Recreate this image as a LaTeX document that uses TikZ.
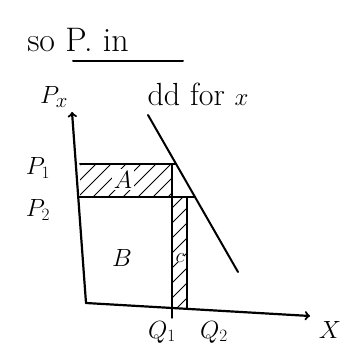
\documentclass[tikz,border=0pt]{standalone}
\usepackage{fontspec}

\begin{document}
\begin{tikzpicture}[
  x=1pt, y=-1pt,
  every node/.style={inner sep=1pt, font=\fontsize{26}{28}\selectfont},
  ink/.style={draw, line width=2pt, line cap=round},
  thin/.style={draw, line width=1.4pt, line cap=round},
  axis/.style={draw, line width=2.2pt, line cap=round, ->},
  hatch/.style={draw, line width=0.9pt},
  lab/.style={inner sep=1pt}]

  \useasboundingbox (0,0) rectangle (354,350);

  % ---- heading ------------------------------------------------------------
  \node[lab, font=\fontsize{34}{36}\selectfont] (title) at (78,40) {so P.\ in};
  \coordinate (ulL) at (73,61);
  \coordinate (ulR) at (183,61);
  \draw[ink] (ulL) -- (ulR);

  % ---- axes ---------------------------------------------------------------
  \coordinate (O)  at (86,303);
  \coordinate (yT) at (72,112);
  \coordinate (xR) at (310,316);
  \draw[axis] (O) -- (yT);
  \draw[axis] (O) -- (xR);
  \node[lab, font=\fontsize{28}{30}\selectfont] (Px) at (54,97)  {$P_x$};
  \node[lab] (X)  at (330,330) {$X$};

  % ---- demand -------------------------------------------------------------
  \coordinate (dT) at (148,115);
  \coordinate (dB) at (238,272);
  \draw[ink] (dT) -- (dB);
  \node[lab, font=\fontsize{32}{34}\selectfont] (dd) at (198,94) {dd for $x$};

  % ---- areas --------------------------------------------------------------
  \coordinate (p1) at (80,164);
  \coordinate (p2) at (79,197);
  \coordinate (a1) at (172,164);
  \coordinate (a2) at (195,197);
  \coordinate (q1) at (172,318);
  \coordinate (b2) at (187,197);
  \coordinate (q2) at (187,309);
  % hatching of A and C
  \begin{scope}
    \clip (p1) rectangle (172,197) (172,197) rectangle (q2);
    \foreach \s in {-130,-115,...,200}
      \draw[hatch] (\s,330) -- ++(200,-200);
  \end{scope}
  \draw[ink] (p1) -- (176,164);
  \draw[ink] (p2) -- (a2);
  \draw[thin] (a1) -- (q1);
  \draw[ink] (b2) -- (q2);

  \node[lab] (P1) at (38,168) {$P_1$};
  \node[lab] (P2) at (38,210) {$P_2$};
  \node[lab] (Q1) at (162,332) {$Q_1$};
  \node[lab] (Q2) at (214,332) {$Q_2$};
  \node[lab, fill=white, inner sep=2pt] (A) at (123,180) {$A$};
  \node[lab] (B) at (122,258) {$B$};
  \node[lab, fill=white, inner sep=0pt, font=\fontsize{20}{22}\selectfont] (C) at (180,258) {$c$};
\end{tikzpicture}
\end{document}
